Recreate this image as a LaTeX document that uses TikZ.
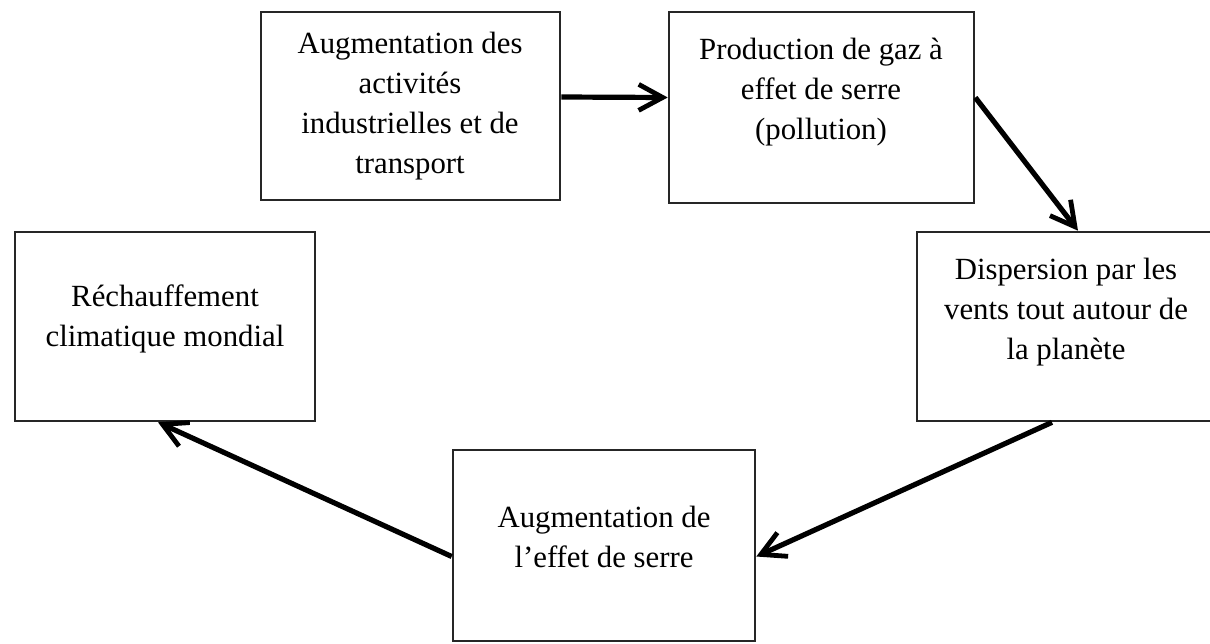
\documentclass[tikz,border=0pt]{standalone}
\usepackage{fontspec}
\setmainfont{Liberation Serif}
\usetikzlibrary{arrows.meta,calc}
\begin{document}
\begin{tikzpicture}[x=0.5pt,y=-0.5pt,
  box/.style={draw=black!85,line width=1.3pt,inner sep=0pt},
  txt/.style={align=center,font=\fontsize{15.4}{20}\selectfont,inner sep=0pt},
  arr/.style={line width=2.6pt,-{Straight Barb[length=12pt,width=13pt,line width=2.4pt]}}]
\useasboundingbox (0,0) rectangle (1210,643);
\clip (0,0) rectangle (1210,643);
\fill[white] (0,0) rectangle (1210,643);
\node[box,minimum width=149.5pt,minimum height=94pt] (b1) at (410.5,106) {};
\node[box,minimum width=152.5pt,minimum height=95.5pt] (b2) at (821.5,107.5) {};
\node[box,minimum width=149pt,minimum height=94.5pt] (b3) at (1066,326.5) {};
\node[box,minimum width=151pt,minimum height=95.5pt] (b4) at (604,545.5) {};
\node[box,minimum width=150pt,minimum height=94.5pt] (b5) at (165,326.5) {};
\node[txt] (t1) at (410,106) {Augmentation des\\activités\\industrielles et de\\transport};
\node[txt] (t2) at (821,92) {Production de gaz à\\effet de serre\\(pollution)};
\node[txt] (t3) at (1066,312) {Dispersion par les\\vents tout autour de\\la planète};
\node[txt] (t4) at (604,537) {Augmentation de\\l’effet de serre};
\node[txt] (t5) at (165,319) {Réchauffement\\climatique mondial};
\draw[arr] ($(b1.east)+(0,-9)$) -- ($(b2.west)+(0,-10)$);
\draw[arr] ($(b2.east)+(0,-10)$) -- ($(b3.north)+(12,0)$);
\draw[arr] ($(b3.south)+(-14,0)$) -- ($(b4.east)+(0,11)$);
\draw[arr] ($(b4.west)+(0,11)$) -- ($(b5.south)+(-7,0)$);
\end{tikzpicture}
\end{document}
